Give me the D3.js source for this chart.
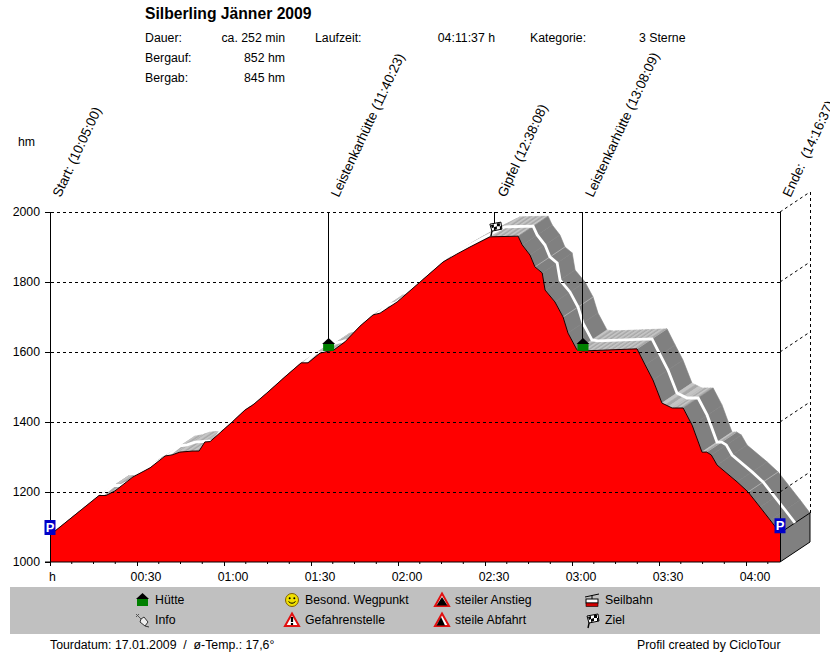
<!DOCTYPE html>
<html lang="de">
<head>
	<meta charset="utf-8">
	<title>Silberling Jänner 2009</title>
	<script src="https://d3js.org/d3.v7.min.js"></script>
	<style type="text/css">
		html, body { margin: 0; padding: 0; background: #fff; }
		svg { display: block; }
		text { font-family: "Liberation Sans", Arial, sans-serif; font-size: 12.3px; fill: #000; white-space: pre; }
	</style>
</head>
<body>
	<svg id="chart" width="830" height="652"></svg>
	<script type="text/javascript">
	// profile: minutes since start, height in hm
	var minutes = [0, 16.9, 19.3, 22.4, 28.6, 34.5, 39.7, 42.1, 44.8, 49.3, 51.4, 53.4, 55.2, 62.8, 67.2, 70,
		74.8, 81, 86.6, 89, 93.1, 94.8, 97.9, 101.7, 106.9, 111.4, 113.8, 119.7, 127.6, 135.5, 140.3, 144.8, 151.7,
		161.4, 162.8, 165.5, 167.2, 169.7, 170.7, 174.1, 176.9, 178.6, 181.7, 183.8, 202.4, 205.2, 207.9, 211,
		214.5, 218.3, 221.4, 224.8, 226.4, 228, 230, 236.9, 240.7, 244.8, 248.3, 251.7]
	var heights = [1077, 1190, 1190, 1203, 1243, 1269, 1303, 1306, 1314, 1317, 1317, 1343, 1344, 1400, 1434, 1449,
		1483, 1529, 1569, 1569, 1597, 1600, 1606, 1629, 1674, 1706, 1711, 1743, 1800, 1857, 1880, 1900, 1929,
		1931, 1906, 1877, 1843, 1826, 1777, 1743, 1700, 1654, 1606, 1603, 1609, 1563, 1520, 1454,
		1440, 1440, 1391, 1314, 1314, 1306, 1277, 1229, 1200, 1157, 1120, 1083]

	var yTicks = [1000, 1200, 1400, 1600, 1800, 2000]
	var xTicks = [30, 60, 90, 120, 150, 180, 210, 240]
	var xMinor = [7.5, 15, 22.5, 37.5, 45, 52.5, 67.5, 75, 82.5, 97.5, 105, 112.5, 127.5, 135, 142.5, 157.5, 165, 172.5, 187.5, 195, 202.5, 217.5, 225, 232.5, 247.5]
	var xTickLabels = ["00:30", "01:00", "01:30", "02:00", "02:30", "03:00", "03:30", "04:00"]

	var markerNames = ["Start: (10:05:00)", "Leistenkarhütte (11:40:23)", "Gipfel (12:38:08)", "Leistenkarhütte (13:08:09)", "Ende:  (14:16:37)"]
	var markerMinutes = [0, 95.9, 153.4, 183.6, 251.7]
	var markerHeights = [1100, 1603, 1931, 1603, 1105]
	var markerIcons = ["park", "hut", "flag", "hut", "park"]

	var legendNames = ["Hütte", "Info", "Besond. Wegpunkt", "Gefahrenstelle", "steiler Anstieg", "steile Abfahrt", "Seilbahn", "Ziel"]
	var legendIcons = ["hut", "pin", "smiley", "danger", "up", "down", "cable", "flag"]

	var svg = d3.select("#chart")
	var x = d3.scaleLinear().domain([0, 251.7]).range([50, 780])
	var y = d3.scaleLinear().domain([1000, 2000]).range([562, 212])
	var depth = [30, -20]

	var profile = minutes.map((m, i) => ({ px: x(m), py: y(heights[i]), m: m, h: heights[i] }))

	// ribbon behind the profile, one quad per segment
	var band = svg.append("g")
	function quad(a, b, fill) {
		band.append("path")
			.attr("d", d3.line()([[a[0], a[1]], [b[0], b[1]], [b[0] + depth[0], b[1] + depth[1]], [a[0] + depth[0], a[1] + depth[1]]]) + "Z")
			.attr("fill", fill).attr("stroke", fill).attr("stroke-width", 0.6)
	}
	d3.pairs(profile).forEach(function (pair) {
		var a = pair[0], b = pair[1]
		var slope = (b.h - a.h) / (b.m - a.m)
		if (slope < -4) {
			quad([a.px, a.py], [b.px, b.py], "#808080")
		} else {
			// flat or rising parts are hatched light
			var n = Math.max(1, Math.round((b.px - a.px) / 3))
			d3.range(n).forEach(function (k) {
				var t0 = k / n, t1 = (k + 1) / n
				quad([a.px + (b.px - a.px) * t0, a.py + (b.py - a.py) * t0],
					[a.px + (b.px - a.px) * t1, a.py + (b.py - a.py) * t1],
					k % 2 ? "#a8a8a8" : "#c4c4c4")
			})
		}
	})
	// light seams on the falling parts
	band.selectAll("line.seam")
		.data(profile.filter((d, i) => i > 33 && i % 4 == 0))
		.enter().append("line").attr("class", "seam")
		.attr("x1", d => d.px).attr("y1", d => d.py)
		.attr("x2", d => d.px + depth[0]).attr("y2", d => d.py + depth[1])
		.attr("stroke", "#b8b8b8").attr("stroke-width", 0.8)

	// end wall
	var last = profile[profile.length - 1]
	svg.append("path")
		.attr("d", d3.line()([[x(251.7), y(1000)], [x(251.7) + depth[0], y(1000) + depth[1]], [x(251.7) + depth[0], last.py + depth[1]], [x(251.7), last.py]]) + "Z")
		.attr("fill", "#808080").attr("stroke", "#000")

	// white track in the middle of the ribbon
	svg.append("path")
		.attr("d", d3.line().x(d => d.px + depth[0] / 2).y(d => d.py + depth[1] / 2)(profile))
		.attr("fill", "none").attr("stroke", "#fff").attr("stroke-width", 2.8)

	// red profile
	var area = d3.area().x(d => x(d.m)).y0(y(1000)).y1(d => y(d.h))
	svg.append("path").attr("d", area(profile)).attr("fill", "#ff0000")
	svg.append("path")
		.attr("d", d3.line().x(d => d.px).y(d => d.py)(profile))
		.attr("fill", "none").attr("stroke", "#1a0000").attr("stroke-width", 1)

	// grid, front and side wall
	var grid = svg.append("g").attr("shape-rendering", "crispEdges")
	grid.selectAll("line.h").data(yTicks.slice(1)).enter().append("line")
		.attr("x1", 45).attr("x2", 780)
		.attr("y1", d => y(d)).attr("y2", d => y(d))
		.attr("stroke", "#000").attr("stroke-dasharray", "3,3")
	svg.append("g").selectAll("line").data(yTicks.slice(1)).enter().append("line")
		.attr("x1", 780).attr("x2", 780 + depth[0])
		.attr("y1", d => y(d)).attr("y2", d => y(d) + depth[1])
		.attr("stroke", "#000").attr("stroke-dasharray", "3,3")
	grid.append("line")
		.attr("x1", 780 + depth[0]).attr("x2", 780 + depth[0])
		.attr("y1", y(2000) + depth[1]).attr("y2", last.py + depth[1])
		.attr("stroke", "#000").attr("stroke-dasharray", "3,3")
	grid.append("line")
		.attr("x1", 780).attr("x2", 780)
		.attr("y1", y(2000)).attr("y2", y(1000))
		.attr("stroke", "#000")

	// axes
	var xAxis = d3.axisBottom(x).tickValues([0].concat(xTicks))
		.tickFormat((d, i) => i == 0 ? "h" : xTickLabels[i - 1]).tickSize(4).tickPadding(6)
	var gx = svg.append("g").attr("transform", "translate(0," + y(1000) + ")").call(xAxis)
	gx.selectAll(".domain").remove()
	gx.append("line").attr("x1", 45).attr("x2", 780).attr("stroke", "#000")
	gx.selectAll(".minor").data(xMinor).enter().append("line")
		.attr("x1", d => x(d)).attr("x2", d => x(d)).attr("y1", 0).attr("y2", 2).attr("stroke", "#000")
	// the time labels sit right of their ticks
	gx.selectAll(".tick text").attr("dx", (d, i) => i == 0 ? 2 : 8.5)
	var yAxis = d3.axisLeft(y).tickValues(yTicks).tickFormat(d3.format("d")).tickSize(5).tickPadding(5)
	var gy = svg.append("g").attr("transform", "translate(50,0)").call(yAxis)
	gy.selectAll(".domain").attr("stroke", "#000")
	svg.selectAll(".tick text").style("font-size", "12.3px").style("font-family", '"Liberation Sans", Arial, sans-serif')
	svg.selectAll("g.tick, .domain").attr("shape-rendering", "crispEdges")

	// waypoint stems
	svg.append("g").selectAll("line").data(markerMinutes.slice(1, 4)).enter().append("line")
		.attr("x1", d => x(d)).attr("x2", d => x(d))
		.attr("y1", y(2000))
		.attr("y2", (d, i) => y(markerHeights[i + 1]) - (i == 1 ? 10 : 12))
		.attr("stroke", "#000").attr("shape-rendering", "crispEdges")

	// icons, all drawn around their centre
	function drawIcon(g, kind) {
		if (kind == "hut") {
			g.append("rect").attr("x", -5).attr("y", -1).attr("width", 11).attr("height", 7).attr("fill", "#008000")
			g.append("path").attr("d", "M-6,-1L0.5,-7L7,-1Z").attr("fill", "#000")
		} else if (kind == "park") {
			g.append("rect").attr("x", -5.5).attr("y", -7).attr("width", 11).attr("height", 15).attr("fill", "#0000c8")
			g.append("text").attr("text-anchor", "middle").attr("y", 4.5).style("font-size", "13px").style("font-weight", "bold").style("fill", "#fff").text("P")
		} else if (kind == "flag") {
			g.append("path").attr("d", "M-4,8L-2,-1").attr("stroke", "#000").attr("stroke-width", 1.4)
			g.append("path").attr("d", "M-5,-4L6,-6L7,1L-3,3Z").attr("fill", "#fff").attr("stroke", "#000")
			g.append("path").attr("d", "M-4,-3L-1,-4L-1,-1L-3,0ZM2,-5L5,-5L5,-2L2,-2ZM-1,-1L2,-2L2,1L-1,2ZM5,-2L6.5,-2L6.5,1L5,1Z").attr("fill", "#000")
		} else if (kind == "pin") {
			g.append("path").attr("d", "M-6,-6L-2,-2M-3,-6L-6,-3M-4,-4L3,3M2,0L0,2").attr("stroke", "#555").attr("fill", "none")
			g.append("path").attr("d", "M-1,-1L2,-3L6,2L3,6L-2,2Z").attr("fill", "#eee").attr("stroke", "#333")
			g.append("path").attr("d", "M3,6L7,7").attr("stroke", "#333")
		} else if (kind == "smiley") {
			g.append("circle").attr("r", 6.5).attr("fill", "#f0e000").attr("stroke", "#806000")
			g.append("circle").attr("cx", -2.3).attr("cy", -1.8).attr("r", 1).attr("fill", "#000")
			g.append("circle").attr("cx", 2.3).attr("cy", -1.8).attr("r", 1).attr("fill", "#000")
			g.append("path").attr("d", "M-3.5,1.5Q0,5,3.5,1.5").attr("fill", "none").attr("stroke", "#000")
		} else if (kind == "danger" || kind == "up" || kind == "down") {
			g.append("path").attr("d", "M0,-6.5L7,6L-7,6Z").attr("fill", "#fff").attr("stroke", "#e01010").attr("stroke-width", 2)
			if (kind == "danger") {
				g.append("path").attr("d", "M0,-3V2M0,3V5").attr("stroke", "#000").attr("stroke-width", 2.2)
			} else if (kind == "up") {
				g.append("path").attr("d", "M-5.5,5.5L5.5,5.5L0,-3Z").attr("fill", "#000")
			} else {
				g.append("path").attr("d", "M-5.5,5.5L-1,-3L3,5.5Z").attr("fill", "#000")
			}
		} else if (kind == "cable") {
			g.append("path").attr("d", "M-7,-3L7,-6M0,-5V-1").attr("stroke", "#000").attr("fill", "none")
			g.append("rect").attr("x", -6).attr("y", -1).attr("width", 12).attr("height", 4).attr("fill", "#fff").attr("stroke", "#000")
			g.append("rect").attr("x", -6).attr("y", 3).attr("width", 12).attr("height", 3.5).attr("fill", "#d00000").attr("stroke", "#000").attr("stroke-width", 0.6)
		}
	}

	markerMinutes.forEach(function (m, i) {
		var dy = markerIcons[i] == "hut" ? -6 : (markerIcons[i] == "flag" ? -8 : 0)
		var g = svg.append("g").attr("transform", "translate(" + x(m) + "," + (y(markerHeights[i]) + dy) + ")")
		drawIcon(g, markerIcons[i])
	})

	// rotated waypoint names
	svg.append("g").selectAll("text").data(markerNames).enter().append("text")
		.attr("transform", (d, i) => "translate(" + (x(markerMinutes[i]) + 10.5) + ",198) rotate(-65)")
		.style("font-size", "13.5px")
		.text(d => d)

	// header
	var title = ["Silberling Jänner 2009"]
	var infoLeft = [["Dauer:", 145, 42], ["Bergauf:", 145, 62], ["Bergab:", 145, 82], ["Laufzeit:", 315, 42], ["Kategorie:", 530, 42], ["3 Sterne", 639, 42], ["hm", 18, 146]]
	var infoRight = [["ca. 252 min", 285, 42], ["852 hm", 285, 62], ["845 hm", 285, 82], ["04:11:37 h", 495, 42]]
	svg.append("text").attr("x", 145).attr("y", 19).style("font-size", "15.7px").style("font-weight", "bold").text(title[0])
	svg.append("g").selectAll("text").data(infoLeft).enter().append("text")
		.attr("x", d => d[1]).attr("y", d => d[2]).text(d => d[0])
	svg.append("g").selectAll("text").data(infoRight).enter().append("text")
		.attr("x", d => d[1]).attr("y", d => d[2]).attr("text-anchor", "end").text(d => d[0])

	// legend
	svg.append("rect").attr("x", 10).attr("y", 587).attr("width", 810).attr("height", 47).attr("fill", "#c0c0c0")
	var legendX = d3.scalePoint().domain([0, 1, 2, 3]).range([142, 592])
	var legendY = d3.scalePoint().domain([0, 1]).range([600, 620])
	legendNames.forEach(function (name, i) {
		var col = Math.floor(i / 2), row = i % 2
		var g = svg.append("g").attr("transform", "translate(" + legendX(col) + "," + legendY(row) + ")")
		drawIcon(g, legendIcons[i])
		g.append("text").attr("x", 13).attr("y", 4).text(name)
	})

	// footer
	svg.append("text").attr("x", 50).attr("y", 649).text("Tourdatum: 17.01.2009  /  ø-Temp.: 17,6°")
	svg.append("text").attr("x", 637).attr("y", 649).text("Profil created by CicloTour")
	</script>
</body>
</html>
